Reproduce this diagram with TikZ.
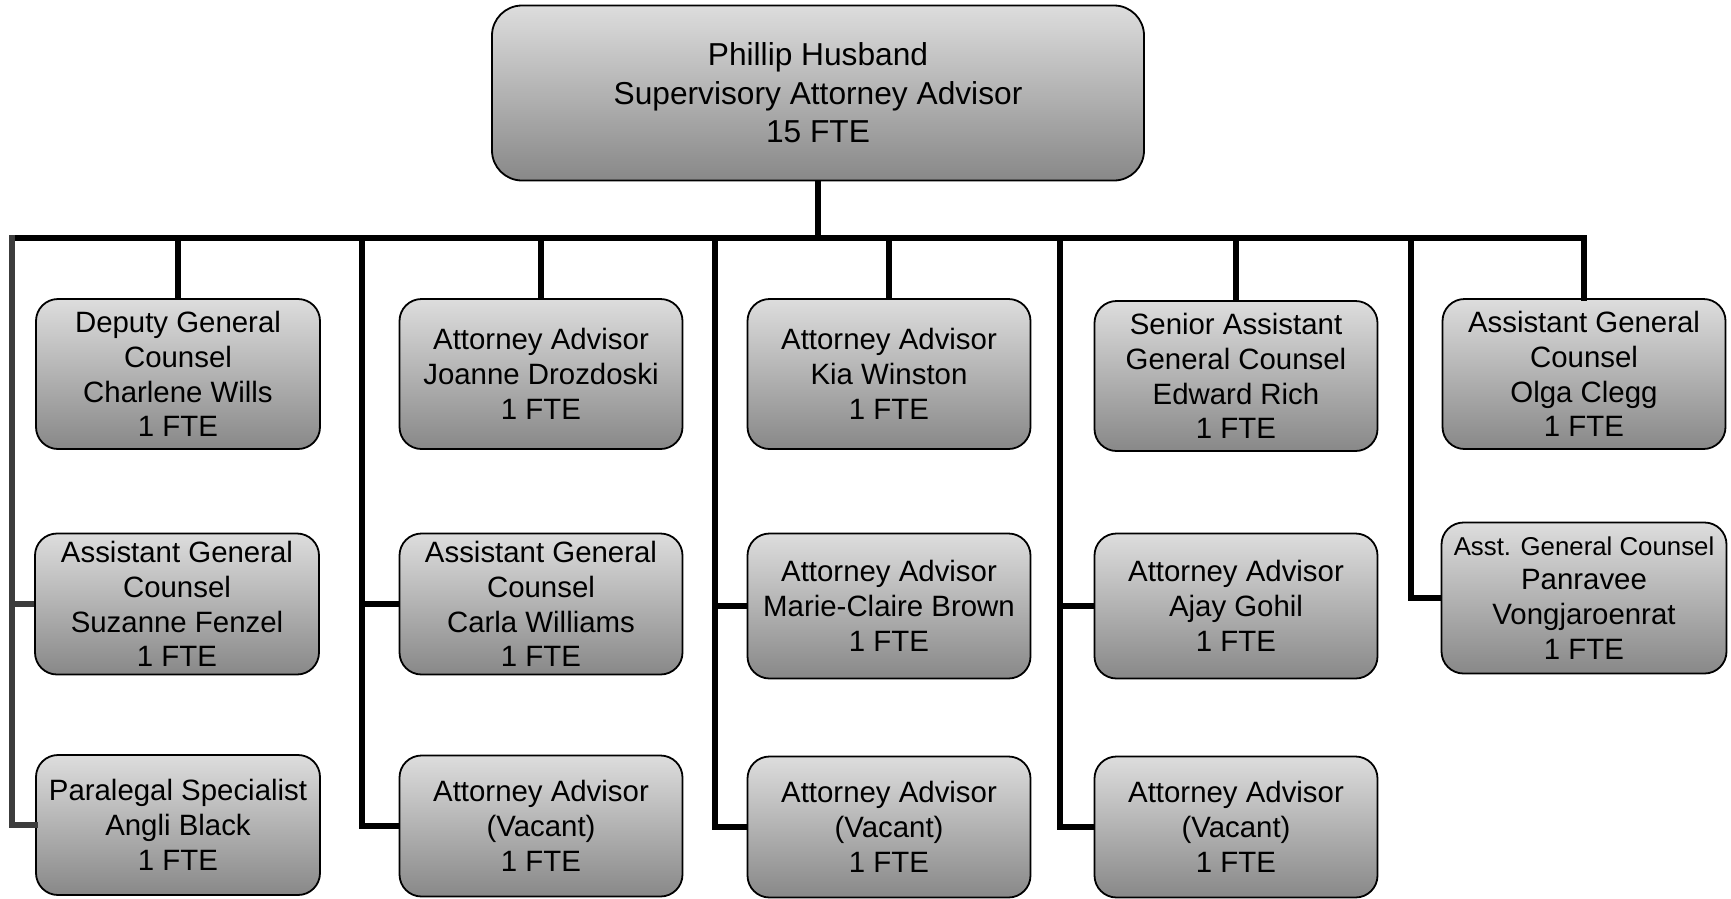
\documentclass[tikz,border=0pt]{standalone}
\usepackage{fontspec}
\setmainfont{Liberation Sans}
\definecolor{boxtop}{RGB}{221,221,221}
\definecolor{boxbot}{RGB}{136,136,136}
\definecolor{leftline}{RGB}{60,60,60}
\begin{document}
\begin{tikzpicture}[x=1pt,y=-1pt,
  box/.style={draw=black, line width=1.8pt, rounded corners=22pt,
    top color=boxtop, bottom color=boxbot, align=center, inner sep=0pt,
    minimum width=283pt, minimum height=145pt,
    font=\fontsize{29.4}{34.8}\selectfont},
  headbox/.style={box, rounded corners=30pt, minimum width=652pt, minimum height=175pt,
    font=\fontsize{31.7}{38.6}\selectfont},
  link/.style={line width=5.5pt, draw=black},
  graylink/.style={line width=5.5pt, draw=leftline},
]
\useasboundingbox (0,0) rectangle (1731,898);

% head of the office
\node[headbox] (head) at (818,93) {Phillip Husband\\Supervisory Attorney Advisor\\15 FTE};

% column 1
\node[box, minimum width=284pt, minimum height=150pt] (c1r1) at (178,374) {Deputy General\\Counsel\\Charlene Wills\\1 FTE};
\node[box, minimum width=284pt, minimum height=141pt] (c1r2) at (177,604) {Assistant General\\Counsel\\Suzanne Fenzel\\1 FTE};
\node[box, minimum width=284pt, minimum height=140pt] (c1r3) at (178,825) {Paralegal Specialist\\Angli Black\\1 FTE};

% column 2
\node[box, minimum height=150pt] (c2r1) at (541,374) {Attorney Advisor\\Joanne Drozdoski\\1 FTE};
\node[box, minimum height=141pt] (c2r2) at (541,604) {Assistant General\\Counsel\\Carla Williams\\1 FTE};
\node[box, minimum height=141pt] (c2r3) at (541,826) {Attorney Advisor\\(Vacant)\\1 FTE};

% column 3
\node[box, minimum height=150pt] (c3r1) at (889,374) {Attorney Advisor\\Kia Winston\\1 FTE};
\node[box, minimum height=145pt] (c3r2) at (889,606) {Attorney Advisor\\Marie-Claire Brown\\1 FTE};
\node[box, minimum height=141pt] (c3r3) at (889,827) {Attorney Advisor\\(Vacant)\\1 FTE};

% column 4
\node[box, minimum height=150pt] (c4r1) at (1236,376) {Senior Assistant\\General Counsel\\Edward Rich\\1 FTE};
\node[box, minimum height=145pt] (c4r2) at (1236,606) {Attorney Advisor\\Ajay Gohil\\1 FTE};
\node[box, minimum height=141pt] (c4r3) at (1236,827) {Attorney Advisor\\(Vacant)\\1 FTE};

% column 5
\node[box, minimum height=150pt] (c5r1) at (1584,374) {Assistant General\\Counsel\\Olga Clegg\\1 FTE};
\node[box, minimum width=285pt, minimum height=151pt] (c5r2) at (1584,598) {{\fontsize{25.8}{31}\selectfont Asst. General Counsel}\\Panravee\\Vongjaroenrat\\1 FTE};

% bus and column spines
\coordinate (bus) at (818,238);
\coordinate (v1) at (12,238);
\coordinate (v2) at (362,238);
\coordinate (v3) at (715,238);
\coordinate (v4) at (1060,238);
\coordinate (v5) at (1411,238);

\draw[link] (head.south) -- (bus);
\draw[link, line cap=rect] (v1) -- (c5r1.north |- bus) -- (c5r1.north);
\foreach \c in {c1r1,c2r1,c3r1,c4r1}
  \draw[link] (\c.north |- bus) -- (\c.north);

% column 1 spine
\draw[graylink, line cap=rect] (v1) |- (c1r3.west);
\draw[graylink] (c1r2.west -| v1) -- (c1r2.west);

% spines of columns 2 to 4
\foreach \v/\a/\b in {v2/c2r2/c2r3, v3/c3r2/c3r3, v4/c4r2/c4r3}{
  \draw[link, line join=miter] (\v) |- (\b.west);
  \draw[link] (\a.west -| \v) -- (\a.west);
}

% column 5 spine
\draw[link, line join=miter] (v5) |- (c5r2.west);
\end{tikzpicture}
\end{document}
